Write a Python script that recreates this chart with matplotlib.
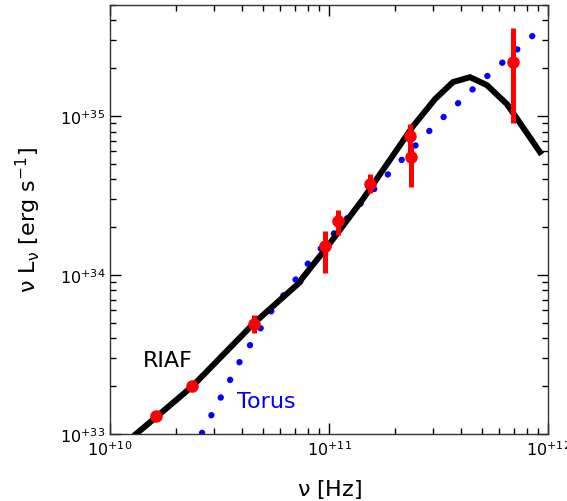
import numpy as np
import matplotlib
matplotlib.use("Agg")
import matplotlib.pyplot as plt
from matplotlib.ticker import LogLocator, FuncFormatter, NullFormatter

# RIAF model (log10 nu, log10 nuLnu)
riaf_lognu = [10.119, 10.213, 10.376, 10.658, 10.868, 10.875, 10.991, 11.155,
              11.384, 11.484, 11.566, 11.644, 11.721, 11.813, 11.963]
riaf_logL = [33.000, 33.109, 33.300, 33.698, 33.956, 33.975, 34.176, 34.478,
             34.937, 35.107, 35.214, 35.245, 35.195, 35.075, 34.774]

# Torus model
torus_lognu = [10.420, 10.594, 10.740, 10.909, 11.091, 11.283, 11.475, 11.676, 11.954]
torus_logL = [33.006, 33.459, 33.780, 34.082, 34.371, 34.654, 34.931, 35.195, 35.535]

# observed points
obs_nu = [1.63e10, 2.38e10, 4.55e10, 9.6e10, 1.10e11, 1.54e11, 2.34e11, 2.37e11, 6.9e11]
obs_L = [1.29e33, 2.00e33, 4.93e33, 1.53e34, 2.20e34, 3.75e34, 7.5e34, 5.5e34, 2.2e35]
obs_Llo = [1.29e33, 2.00e33, 4.3e33, 1.03e34, 1.78e34, 3.3e34, 5.6e34, 3.6e34, 9.0e34]
obs_Lhi = [1.29e33, 2.00e33, 5.6e33, 1.90e34, 2.55e34, 4.35e34, 8.9e34, 6.5e34, 3.6e35]

fig = plt.figure(figsize=(5.67, 5.02), dpi=100)
ax = fig.add_axes([0.194, 0.1335, 0.7725, 0.8545])

nu_r = 10 ** np.array(riaf_lognu)
L_r = 10 ** np.array(riaf_logL)
ax.plot(nu_r, L_r, color="black", lw=4.3, solid_joinstyle="miter", zorder=2)

nu_t = 10 ** np.array(torus_lognu)
L_t = 10 ** np.array(torus_logL)
ax.plot(nu_t, L_t, color="blue", lw=4.5, linestyle=(0, (0.05, 3.15)),
        dash_capstyle="round", zorder=1)

obs_L = np.array(obs_L)
yerr = [obs_L - np.array(obs_Llo), np.array(obs_Lhi) - obs_L]
ax.errorbar(obs_nu, obs_L, yerr=yerr, fmt="o", color="red", ms=8,
            elinewidth=3.6, capsize=0, mec="red", zorder=3)

ax.text(1.415e10, 2.68e33, "RIAF", fontsize=16, color="black")
ax.text(3.79e10, 1.47e33, "Torus", fontsize=16, color="blue")

ax.set_xscale("log")
ax.set_yscale("log")
ax.set_xlim(1e10, 1e12)
ax.set_ylim(1e33, 5.0e35)

fmt = FuncFormatter(lambda v, _: r"$\mathregular{10^{+%d}}$" % round(np.log10(v)))
for a in (ax.xaxis, ax.yaxis):
    a.set_major_locator(LogLocator(base=10))
    a.set_minor_locator(LogLocator(base=10, subs=np.arange(2, 10)))
    a.set_major_formatter(fmt)
    a.set_minor_formatter(NullFormatter())

ax.tick_params(which="both", direction="in", top=True, right=True, labelsize=11.5)
ax.tick_params(which="major", length=8, width=1)
ax.tick_params(which="minor", length=4, width=1)
for s in ax.spines.values():
    s.set_color("#333333")
    s.set_linewidth(1.0)

ax.set_xlabel(r"$\mathregular{\nu\ [Hz]}$", fontsize=16, labelpad=14)
ax.set_ylabel(r"$\mathregular{\nu\ L_\nu\ [erg\ s^{-1}]}$", fontsize=16, labelpad=12)

fig.savefig("out.png", dpi=100)
